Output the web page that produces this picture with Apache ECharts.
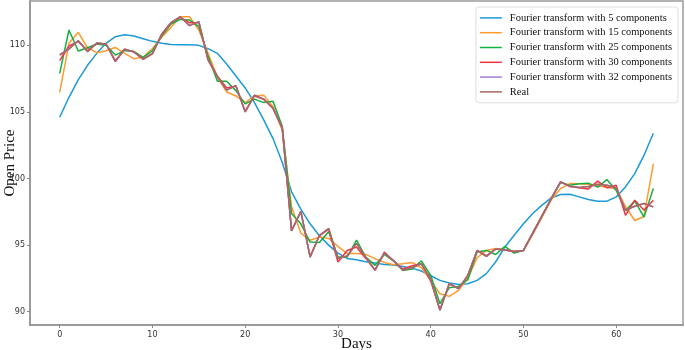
<!DOCTYPE html>
<html>
<head>
<meta charset="utf-8">
<title>Fourier transform</title>
<script src="https://cdn.jsdelivr.net/npm/echarts@6/dist/echarts.min.js"></script>
<style>
  html, body { margin: 0; padding: 0; background: #fff; }
  #chart { width: 685px; height: 350px; }
</style>
</head>
<body>
<div id="chart"></div>
<script>
// days 0..64
const days = Array.from({ length: 65 }, (_, i) => i)

const fourier5 = [
  104.6, 106.1, 107.4, 108.5, 109.4, 110.15, 110.65, 110.8, 110.7, 110.5,
  110.3, 110.15, 110.07, 110.05, 110.05, 110.0, 109.75, 109.4, 108.6, 107.7,
  106.8, 105.7, 104.4, 103.0, 101.2, 99.0, 97.7, 96.6, 95.7, 95.0,
  94.4, 94.0, 93.9, 93.75, 93.65, 93.55, 93.5, 93.4, 93.25, 93.05,
  92.7, 92.35, 92.15, 92.05, 92.1, 92.35, 92.86, 93.73, 94.86, 95.74,
  96.6, 97.37, 98.0, 98.54, 98.8, 98.82, 98.62, 98.42, 98.3, 98.3,
  98.62, 99.37, 100.37, 101.75, 103.4
]
const fourier15 = [
  106.47, 110.15, 110.98, 109.82, 109.45, 109.6, 109.84, 109.4, 109.0, 109.12,
  109.76, 110.6, 111.35, 112.15, 112.15, 111.15, 109.4, 107.6, 106.5, 106.2,
  105.7, 106.2, 106.26, 105.4, 103.6, 97.87, 95.9, 95.36, 95.6, 95.5,
  94.9, 94.36, 94.37, 94.3, 93.98, 93.7, 93.53, 93.6, 93.7, 93.3,
  92.35, 91.35, 91.15, 91.6, 92.5, 94.05, 94.6, 94.75, 94.65, 94.5,
  94.6, 95.8, 97.1, 98.4, 99.24, 99.62, 99.6, 99.55, 99.45, 99.35,
  99.24, 97.9, 96.85, 97.15, 101.1
]
const fourier25 = [
  107.9, 111.15, 109.57, 109.82, 110.1, 110.0, 109.27, 109.6, 109.55, 109.1,
  109.6, 110.7, 111.6, 111.95, 111.9, 111.4, 109.2, 107.3, 107.3, 106.6,
  105.6, 105.96, 105.7, 105.8, 103.9, 97.37, 96.6, 95.23, 95.19, 96.0,
  94.1, 94.1, 95.38, 94.1, 93.48, 94.3, 93.8, 93.1, 93.2, 93.82,
  92.73, 90.6, 91.8, 91.9, 92.4, 94.48, 94.6, 94.29, 94.9, 94.4,
  94.6, 95.9, 97.2, 98.5, 99.7, 99.5, 99.6, 99.65, 99.35, 99.92,
  99.1, 97.6, 98.3, 97.1, 99.25
]
const fourier30 = [
  108.85, 109.95, 110.3, 109.6, 110.15, 110.1, 108.85, 109.7, 109.5, 108.98,
  109.4, 110.8, 111.7, 112.1, 111.7, 111.7, 108.9, 107.7, 106.8, 106.95,
  105.05, 106.2, 105.95, 105.3, 103.8, 96.1, 97.5, 94.15, 95.7, 96.2,
  93.73, 94.6, 94.86, 94.0, 93.1, 94.48, 93.8, 93.2, 93.45, 93.6,
  92.3, 90.15, 92.1, 91.75, 92.7, 94.6, 94.2, 94.7, 94.64, 94.5,
  94.6, 95.9, 97.2, 98.5, 99.75, 99.4, 99.3, 99.22, 99.8, 99.3,
  99.5, 97.24, 98.37, 97.62, 98.37
]
const fourier32 = [
  109.3, 109.75, 110.35, 109.53, 110.17, 110.1, 108.78, 109.71, 109.51, 108.95,
  109.38, 110.85, 111.7, 112.15, 111.48, 111.78, 108.9, 107.65, 106.64, 106.97,
  105.0, 106.26, 105.96, 105.26, 103.76, 96.06, 97.54, 94.1, 95.74, 96.24,
  94.0, 94.18, 95.13, 94.08, 93.14, 94.4, 93.84, 93.12, 93.32, 93.6,
  92.42, 90.1, 92.1, 91.73, 92.73, 94.6, 94.16, 94.7, 94.64, 94.53,
  94.6, 95.9, 97.2, 98.5, 99.75, 99.42, 99.32, 99.4, 99.57, 99.5,
  99.3, 97.62, 97.92, 98.12, 97.87
]
const real = [
  109.27, 109.72, 110.35, 109.53, 110.17, 110.1, 108.78, 109.71, 109.51, 108.95,
  109.36, 110.85, 111.7, 112.15, 111.48, 111.78, 108.9, 107.65, 106.64, 106.97,
  105.0, 106.26, 105.96, 105.26, 103.76, 96.06, 97.54, 94.1, 95.74, 96.24,
  94.0, 94.18, 95.13, 94.08, 93.14, 94.4, 93.84, 93.12, 93.32, 93.6,
  92.44, 90.1, 92.1, 91.73, 92.73, 94.6, 94.16, 94.7, 94.64, 94.53,
  94.6, 95.9, 97.2, 98.5, 99.75, 99.42, 99.32, 99.4, 99.57, 99.5,
  99.3, 97.62, 97.92, 98.12, 97.87
]

const seriesNames = [
  'Fourier transform with 5 components',
  'Fourier transform with 15 components',
  'Fourier transform with 25 components',
  'Fourier transform with 30 components',
  'Fourier transform with 32 components',
  'Real'
]
const seriesColors = ['#1c9ad6', '#ff9a2e', '#14b03c', '#ee3440', '#a97bd4', '#a8675e']
const seriesData = [fourier5, fourier15, fourier25, fourier30, fourier32, real]

const xTicks = [0, 10, 20, 30, 40, 50, 60]
const yTicks = [90, 95, 100, 105, 110]

const chart = echarts.init(document.getElementById('chart'))

const seriesList = seriesData.map((values, idx) => ({
  name: seriesNames[idx],
  type: 'line',
  data: days.map((d, i) => [d, values[i]]),
  showSymbol: false,
  smooth: false,
  lineStyle: { width: 1.5, color: seriesColors[idx] },
  itemStyle: { color: seriesColors[idx] },
  animation: false
}))

chart.setOption({
  animation: false,
  grid: {
    left: 30,
    right: 2,
    top: 1,
    bottom: 25,
    outerBoundsMode: 'none',
    containLabel: false,
    show: true,
    borderColor: '#9a9a9a',
    borderWidth: 1.5
  },
  legend: {
    orient: 'vertical',
    right: 7,
    top: 7,
    data: seriesNames,
    icon: 'rect',
    itemWidth: 22,
    itemHeight: 1.5,
    itemGap: 1,
    padding: [4, 6, 4, 4],
    backgroundColor: '#fff',
    borderColor: '#dddddd',
    borderWidth: 1,
    borderRadius: 3,
    textStyle: {
      fontFamily: 'Liberation Serif',
      fontSize: 10.5,
      color: '#111',
      lineHeight: 13.8,
      padding: [0, 0, 0, 3]
    }
  },
  xAxis: {
    type: 'value',
    min: -3.2,
    max: 67.2,
    name: 'Days',
    nameLocation: 'middle',
    nameGap: 12,
    nameMoveOverlap: false,
    nameTextStyle: { fontFamily: 'Liberation Serif', fontSize: 15, color: '#111' },
    axisLine: { show: true, onZero: false, lineStyle: { color: '#9a9a9a', width: 2 } },
    axisTick: { show: true, length: 3, customValues: xTicks, lineStyle: { color: '#888' } },
    axisLabel: { customValues: xTicks, fontSize: 8, color: '#333', margin: 6, fontFamily: 'DejaVu Sans' },
    splitLine: { show: false }
  },
  yAxis: {
    type: 'value',
    min: 89,
    max: 113.33,
    name: 'Open Price',
    nameLocation: 'middle',
    nameGap: 12,
    nameMoveOverlap: false,
    nameTextStyle: { fontFamily: 'Liberation Serif', fontSize: 15, color: '#111' },
    axisLine: { show: true, onZero: false, lineStyle: { color: '#9a9a9a', width: 2 } },
    axisTick: { show: true, length: 3, customValues: yTicks, lineStyle: { color: '#888' } },
    axisLabel: { customValues: yTicks, fontSize: 8, color: '#333', margin: 5, fontFamily: 'DejaVu Sans' },
    splitLine: { show: false }
  },
  series: seriesList
})
</script>
</body>
</html>
